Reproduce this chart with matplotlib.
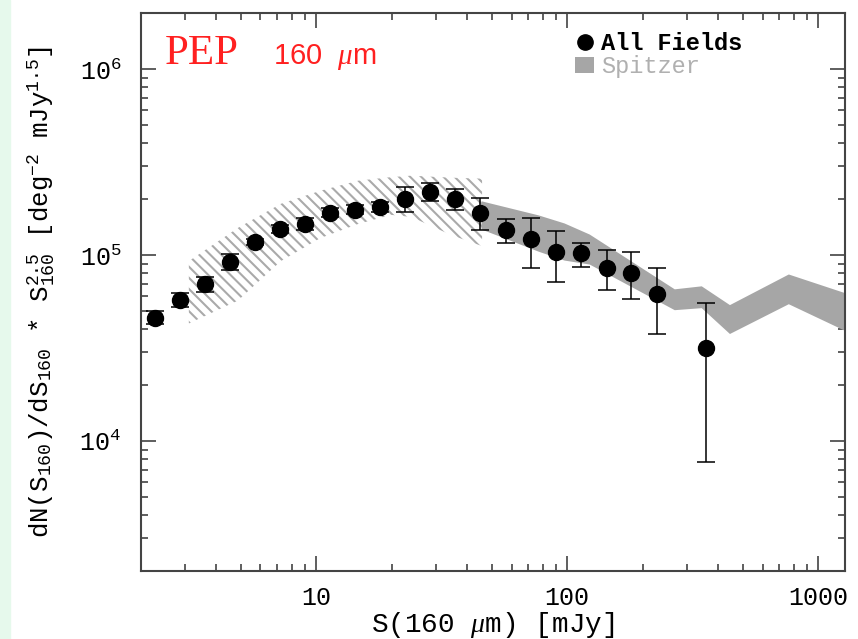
import numpy as np
import matplotlib
matplotlib.use("Agg")
import matplotlib.pyplot as plt
from matplotlib.lines import Line2D
from matplotlib.patches import Patch, Rectangle

# PEP 160 micron counts, all fields
s_pep = [2.28, 2.86, 3.61, 4.54, 5.69, 7.18, 9.02, 11.4, 14.3, 18.0, 22.6,
         28.4, 35.8, 45.1, 57.2, 71.5, 90.3, 113.7, 143.5, 179.9, 227, 358]
n_pep = [46000, 57400, 69800, 91800, 117600, 138700, 147700, 169300, 175800,
         181800, 199300, 217400, 200300, 168700, 136200, 121600, 103800,
         102900, 85000, 80500, 61800, 31700]
n_hi = [50300, 62200, 76600, 100900, 122000, 145400, 159200, 179700, 186500,
        193600, 233400, 244400, 226900, 201800, 156700, 159200, 134900,
        116600, 106000, 104200, 85600, 55300]
n_lo = [42700, 52800, 63500, 83500, 113300, 132000, 136100, 160600, 166700,
        170900, 170900, 196000, 175200, 136100, 115700, 85600, 72100, 86600,
        64900, 57800, 37500, 7700]

# Spitzer band
s_spz = [45.4, 76.6, 97.2, 122.4, 267, 342, 443, 760, 1300]
spz_hi = [196100, 164700, 149000, 129900, 65900, 68400, 54200, 79200, 62300]
spz_lo = [138300, 105100, 94100, 89600, 50900, 52200, 37900, 54800, 38900]

# hatched band
s_hat = [3.11, 4.87, 7.23, 10.4, 14.7, 19.9, 23.9, 34.5, 45.8]
hat_hi = [92900, 140000, 188900, 222100, 251600, 262800, 267700, 261100, 257900]
hat_lo = [42900, 56900, 92900, 123600, 147200, 164700, 160600, 128300, 111900]

plt.rcParams['font.family'] = ['Liberation Mono', 'DejaVu Sans']
plt.rcParams['mathtext.fontset'] = 'custom'
plt.rcParams['mathtext.rm'] = 'Liberation Mono'
plt.rcParams['mathtext.it'] = 'Liberation Serif:italic'
plt.rcParams['mathtext.bf'] = 'Liberation Mono:bold'
plt.rcParams['hatch.linewidth'] = 1.5

fig = plt.figure(figsize=(8.58, 6.39), dpi=100)
fig.patches.append(Rectangle((0, 0), 0.012, 1, transform=fig.transFigure,
                             color='#e6f9ec', zorder=-10))
ax = fig.add_axes([0.164, 0.1064, 0.821, 0.8728])

ax.fill_between(s_hat, hat_lo, hat_hi, facecolor='none', edgecolor='#aaaaaa',
                hatch='\\\\\\', linewidth=0, zorder=1)
ax.fill_between(s_spz, spz_lo, spz_hi, color='#a6a6a6', linewidth=0, zorder=2)

n = np.array(n_pep)
yerr = [n - np.array(n_lo), np.array(n_hi) - n]
ax.errorbar(s_pep, n_pep, yerr=yerr, fmt='o', color='black', ms=11.5,
            elinewidth=1.1, capsize=6.5, capthick=1.1, zorder=3)

ax.set_xscale('log')
ax.set_yscale('log')
ax.set_xlim(2.0, 1280)
ax.set_ylim(2.0e3, 2.0e6)

ax.xaxis.set_major_formatter(matplotlib.ticker.FuncFormatter(lambda v, p: '%d' % v))
ax.tick_params(which='both', direction='in', top=True, right=True, width=1.1,
               labelsize=18, color='#333333')
ax.tick_params(which='major', length=11)
ax.tick_params(which='minor', length=5)
ax.tick_params(axis='x', pad=11)
ax.tick_params(axis='y', pad=14)
for sp in ax.spines.values():
    sp.set_linewidth(1.5)
    sp.set_color('#444444')

ax.set_xlabel(r'S(160 $\mu$m) [mJy]', fontsize=20, labelpad=0)
ax.set_ylabel(r'dN(S$_{160}$)/dS$_{160}$ * S$^{2.5}_{160}$ [deg$^{-2}$ mJy$^{1.5}$]',
              fontsize=18.5, labelpad=16)

ax.text(0.034, 0.962, 'PEP', transform=ax.transAxes, color='#ff2020',
        fontsize=31, family='Liberation Serif', va='top')
ax.text(0.188, 0.948, r'160  $\mu$m', transform=ax.transAxes, color='#ff2020',
        fontsize=21, family='Liberation Sans', va='top')

handles = [Line2D([], [], marker='o', color='black', ls='none', ms=11),
           Patch(facecolor='#a6a6a6', edgecolor='none')]
leg = ax.legend(handles, ['All Fields', 'Spitzer'], loc='upper left',
                bbox_to_anchor=(0.59, 1.0), frameon=False, fontsize=17,
                handlelength=0.8, handletextpad=0.3, labelspacing=0.0,
                borderaxespad=0.4)
leg.get_texts()[0].set_fontweight('bold')
leg.get_texts()[1].set_color('#b0b0b0')

fig.savefig('out.png', dpi=100)
